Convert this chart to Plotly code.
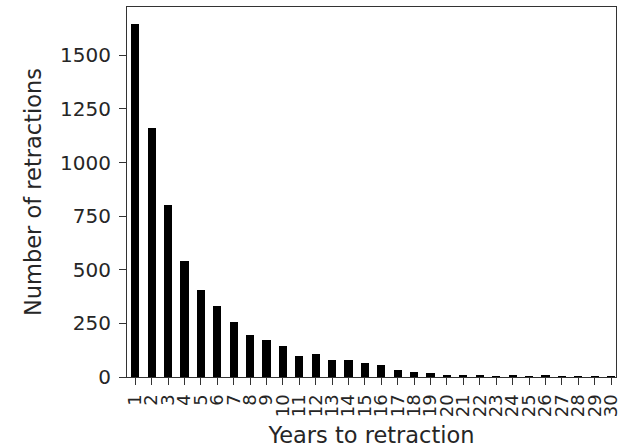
import plotly.graph_objects as go

years = [str(i) for i in range(1, 31)]
counts = [1645, 1160, 802, 541, 406, 331, 258, 197, 174, 146,
          99, 109, 78, 78, 64, 55, 33, 25, 17, 8,
          5, 6, 4, 7, 2, 5, 2, 1, 1, 1]

fig = go.Figure(go.Bar(x=years, y=counts, width=0.5, marker=dict(color="black", line=dict(width=0))))

font = dict(family="DejaVu Sans", size=20, color="#262626")
fig.update_layout(
    width=622, height=448,
    margin=dict(l=127, r=1, t=7, b=71),
    paper_bgcolor="white", plot_bgcolor="white",
    showlegend=False,
    font=font,
    bargap=0,
)
fig.update_xaxes(
    type="category", range=[-0.5, 29.3],
    tickmode="array", tickvals=years, ticktext=years,
    tickangle=-90, ticks="outside", ticklen=7, tickwidth=1.2, tickcolor="#333",
    showline=True, linecolor="#333", linewidth=1.2, mirror=True,
    showgrid=False, tickfont=dict(size=18), ticklabelstandoff=2,
    title=dict(text="Years to retraction", font=dict(size=22.5), standoff=12),
)
fig.update_yaxes(
    range=[0, 1725], tickvals=[0, 250, 500, 750, 1000, 1250, 1500],
    ticks="outside", ticklen=7, tickwidth=1.2, tickcolor="#333",
    showline=True, linecolor="#333", linewidth=1.2, mirror=True,
    showgrid=False, zeroline=False, tickfont=dict(size=20), ticklabelstandoff=4,
    title=dict(text="Number of retractions", font=dict(size=22.5), standoff=12),
)
fig.write_html("out.html")
